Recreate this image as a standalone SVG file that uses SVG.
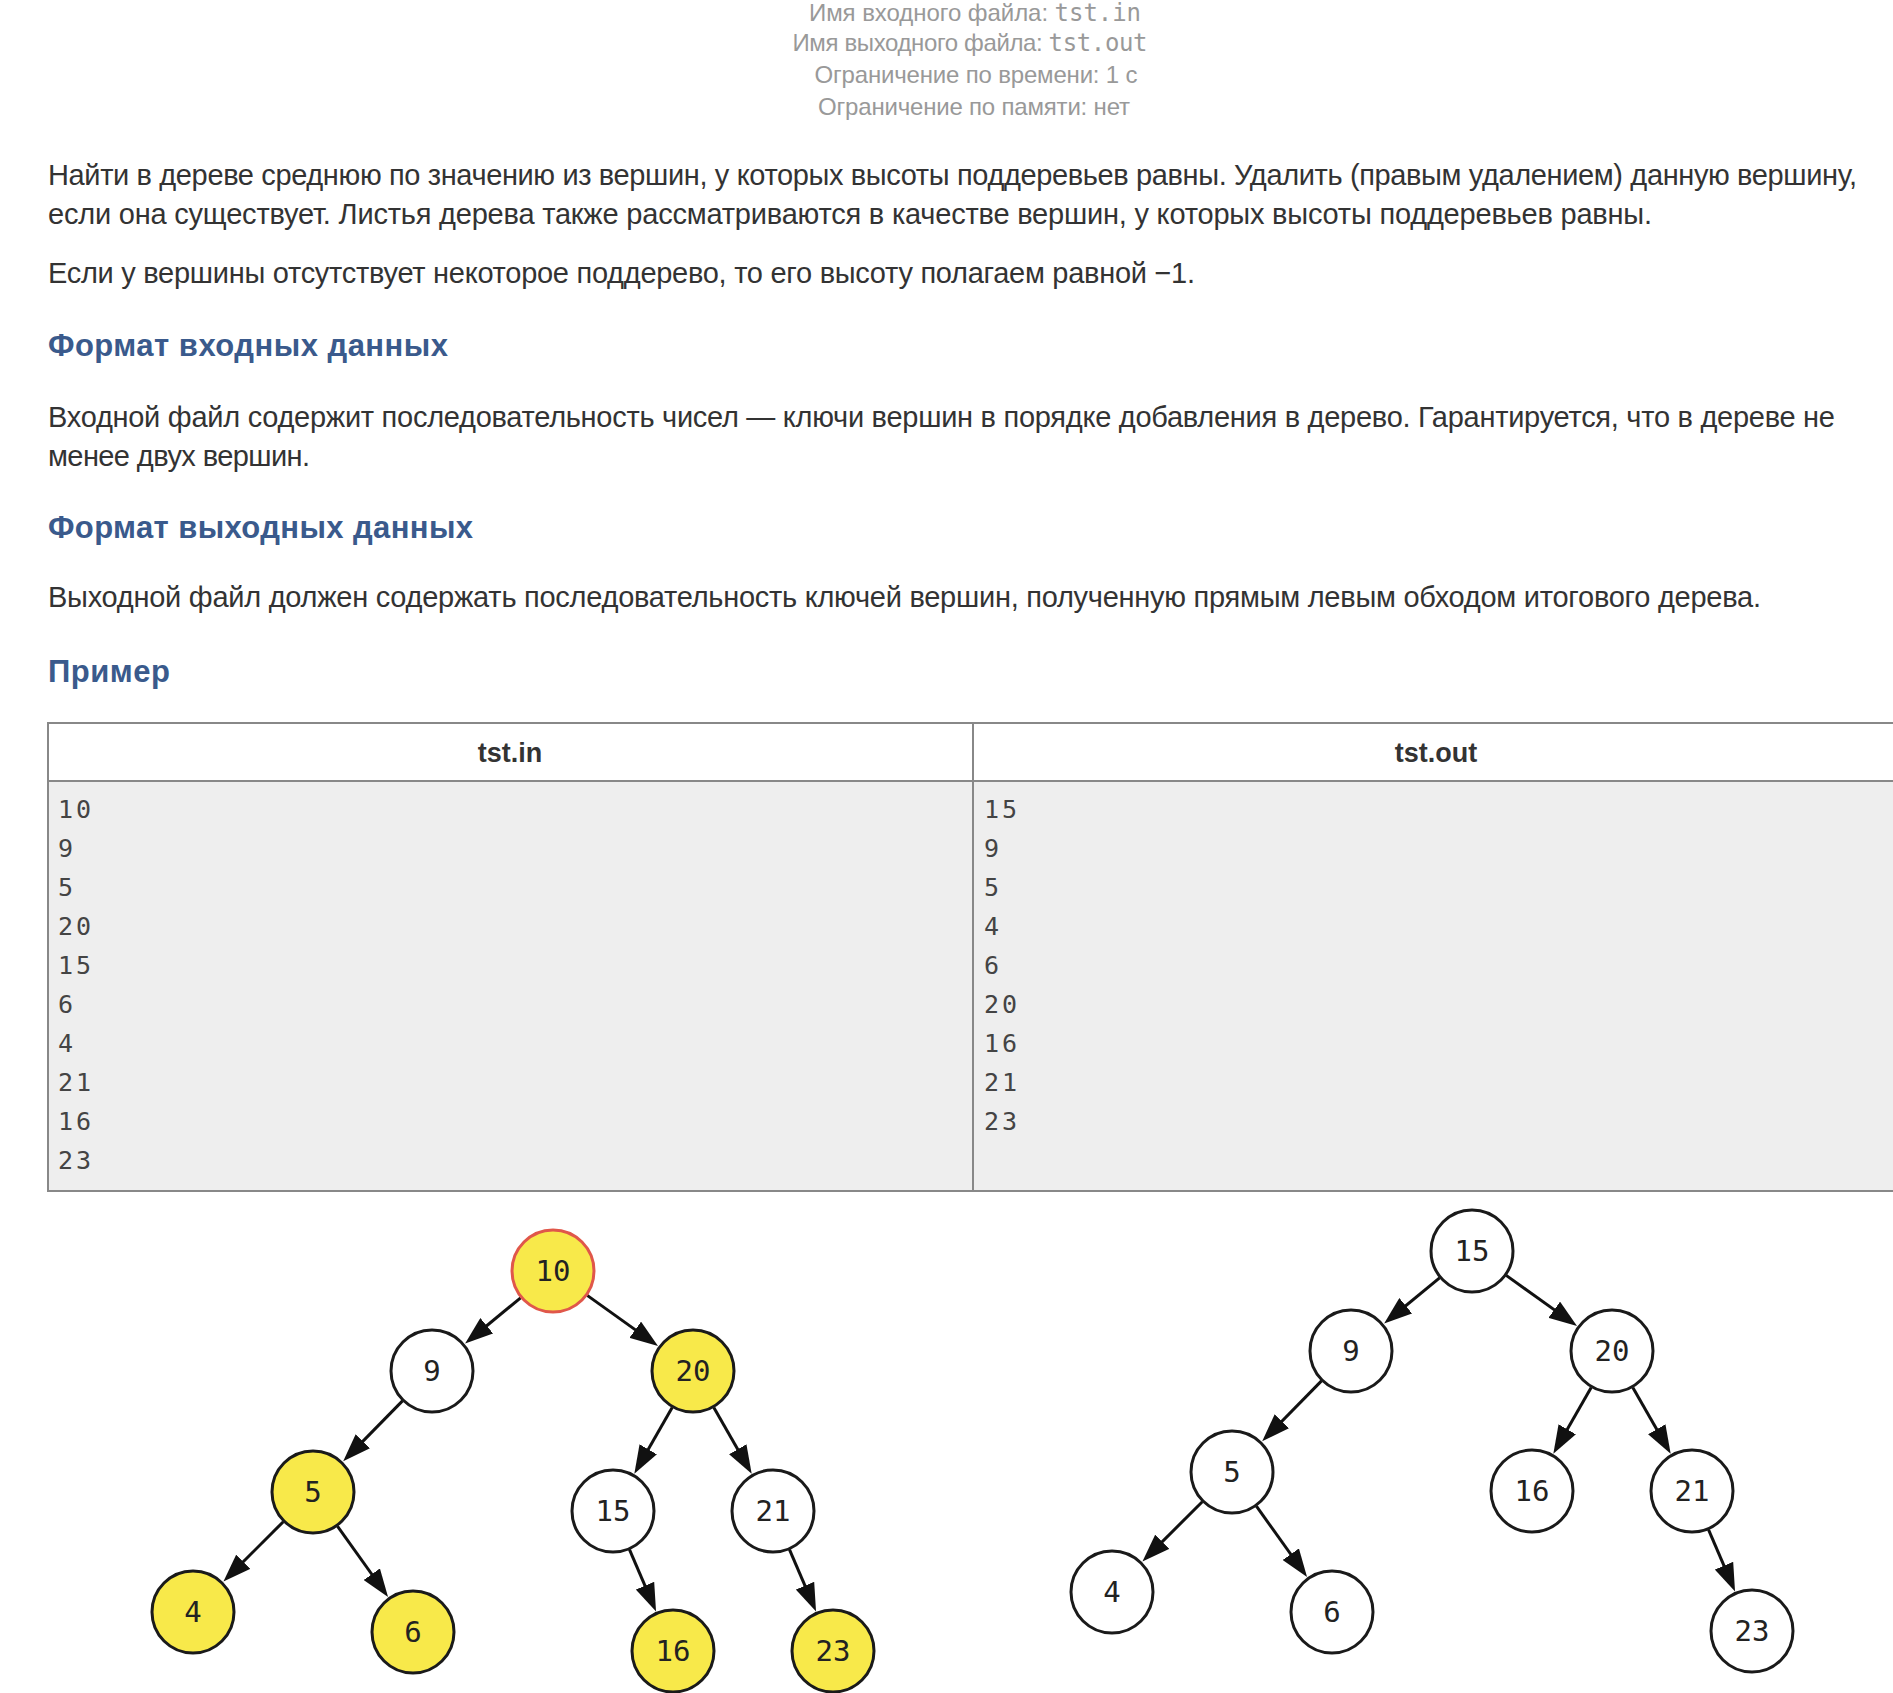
<svg xmlns="http://www.w3.org/2000/svg" width="1893" height="1693" viewBox="0 0 1893 1693">
<defs>
<style>
.hdr{font-family:"Liberation Sans",Arial,sans-serif;font-size:24px;fill:#999;text-anchor:middle}
.hm{font-family:"DejaVu Sans Mono","Liberation Mono",monospace;font-size:24px}
.body{font-family:"Liberation Sans",Arial,sans-serif;font-size:29px;fill:#333}
.h2{font-family:"Liberation Sans",Arial,sans-serif;font-size:31px;font-weight:bold;fill:#3a5a8c}
.th{font-family:"Liberation Sans",Arial,sans-serif;font-size:27px;font-weight:bold;fill:#333;text-anchor:middle}
.td{font-family:"DejaVu Sans Mono","Liberation Mono",monospace;font-size:25px;fill:#444;letter-spacing:3px}
.bd{stroke:#888;stroke-width:2;fill:none}
.n{stroke:#1a1a1a;stroke-width:3;fill:#fff}
.y{fill:#f8e94a}
.root{stroke:#e0574a}
.nt{font-family:"DejaVu Sans Mono","Liberation Mono",monospace;font-size:29px;fill:#222;text-anchor:middle}
.e{stroke:#111;stroke-width:3;fill:none;marker-end:url(#ah)}
</style>
<marker id="ah" markerUnits="userSpaceOnUse" viewBox="0 0 28 20" markerWidth="28" markerHeight="20" refX="20" refY="10" orient="auto">
<path d="M0,0 L28,10 L0,20 z" fill="#111"/>
</marker>
</defs>
<rect width="1893" height="1693" fill="#fff"/>

<g id="header">
<text class="hdr" x="975" y="21" textLength="332">Имя входного файла: <tspan class="hm">tst.in</tspan></text>
<text class="hdr" x="970" y="51" textLength="355">Имя выходного файла: <tspan class="hm">tst.out</tspan></text>
<text class="hdr" x="976" y="83" textLength="323">Ограничение по времени: 1 с</text>
<text class="hdr" x="974" y="115" textLength="312">Ограничение по памяти: нет</text>
</g>

<g id="statement">
<text class="body" x="48" y="185" textLength="1809">Найти в дереве среднюю по значению из вершин, у которых высоты поддеревьев равны. Удалить (правым удалением) данную вершину,</text>
<text class="body" x="48" y="224" textLength="1604">если она существует. Листья дерева также рассматриваются в качестве вершин, у которых высоты поддеревьев равны.</text>
<text class="body" x="48" y="283" textLength="1147">Если у вершины отсутствует некоторое поддерево, то его высоту полагаем равной −1.</text>
<text class="h2" x="48" y="356" textLength="400">Формат входных данных</text>
<text class="body" x="48" y="427" textLength="1787">Входной файл содержит последовательность чисел — ключи вершин в порядке добавления в дерево. Гарантируется, что в дереве не</text>
<text class="body" x="48" y="466" textLength="262">менее двух вершин.</text>
<text class="h2" x="48" y="538" textLength="425">Формат выходных данных</text>
<text class="body" x="48" y="607" textLength="1713">Выходной файл должен содержать последовательность ключей вершин, полученную прямым левым обходом итогового дерева.</text>
<text class="h2" x="48" y="682" textLength="122">Пример</text>
</g>

<g id="table">
<rect x="48" y="781" width="1850" height="410" fill="#eeeeee"/>
<line class="bd" x1="47" y1="723" x2="1893" y2="723"/>
<line class="bd" x1="47" y1="781" x2="1893" y2="781"/>
<line class="bd" x1="47" y1="1191" x2="1893" y2="1191"/>
<line class="bd" x1="48" y1="722" x2="48" y2="1192"/>
<line class="bd" x1="973" y1="722" x2="973" y2="1192"/>
<text class="th" x="510" y="762">tst.in</text>
<text class="th" x="1436" y="762">tst.out</text>
<text class="td" x="58" y="818">10</text>
<text class="td" x="58" y="857">9</text>
<text class="td" x="58" y="896">5</text>
<text class="td" x="58" y="935">20</text>
<text class="td" x="58" y="974">15</text>
<text class="td" x="58" y="1013">6</text>
<text class="td" x="58" y="1052">4</text>
<text class="td" x="58" y="1091">21</text>
<text class="td" x="58" y="1130">16</text>
<text class="td" x="58" y="1169">23</text>
<text class="td" x="984" y="818">15</text>
<text class="td" x="984" y="857">9</text>
<text class="td" x="984" y="896">5</text>
<text class="td" x="984" y="935">4</text>
<text class="td" x="984" y="974">6</text>
<text class="td" x="984" y="1013">20</text>
<text class="td" x="984" y="1052">16</text>
<text class="td" x="984" y="1091">21</text>
<text class="td" x="984" y="1130">23</text>
</g>

<g id="connectors">
<line class="e" x1="520.6" y1="1297.8" x2="471.3" y2="1338.5"/>
<line class="e" x1="587.2" y1="1295.4" x2="651.5" y2="1341.4"/>
<line class="e" x1="402.5" y1="1400.9" x2="348.8" y2="1455.6"/>
<line class="e" x1="672.2" y1="1407.5" x2="638.3" y2="1466.7"/>
<line class="e" x1="713.8" y1="1407.5" x2="747.7" y2="1466.7"/>
<line class="e" x1="283.3" y1="1521.7" x2="229.1" y2="1575.9"/>
<line class="e" x1="337.4" y1="1526.2" x2="383.4" y2="1590.5"/>
<line class="e" x1="629.5" y1="1549.6" x2="652.9" y2="1604.1"/>
<line class="e" x1="789.5" y1="1549.6" x2="812.9" y2="1604.1"/>

<line class="e" x1="1439.6" y1="1277.8" x2="1390.3" y2="1318.5"/>
<line class="e" x1="1506.2" y1="1275.4" x2="1570.5" y2="1321.4"/>
<line class="e" x1="1321.5" y1="1380.9" x2="1267.8" y2="1435.6"/>
<line class="e" x1="1591.2" y1="1387.5" x2="1557.3" y2="1446.7"/>
<line class="e" x1="1632.8" y1="1387.5" x2="1666.7" y2="1446.7"/>
<line class="e" x1="1202.3" y1="1501.7" x2="1148.1" y2="1555.9"/>
<line class="e" x1="1256.4" y1="1506.2" x2="1302.4" y2="1570.5"/>
<line class="e" x1="1708.5" y1="1529.6" x2="1731.9" y2="1584.1"/>
</g>

<g id="L10"><circle class="n y root" cx="553" cy="1271" r="41"/><text class="nt" x="553" y="1281">10</text></g>
<g id="L9"><circle class="n" cx="432" cy="1371" r="41"/><text class="nt" x="432" y="1381">9</text></g>
<g id="L20"><circle class="n y" cx="693" cy="1371" r="41"/><text class="nt" x="693" y="1381">20</text></g>
<g id="L5"><circle class="n y" cx="313" cy="1492" r="41"/><text class="nt" x="313" y="1502">5</text></g>
<g id="L15"><circle class="n" cx="613" cy="1511" r="41"/><text class="nt" x="613" y="1521">15</text></g>
<g id="L21"><circle class="n" cx="773" cy="1511" r="41"/><text class="nt" x="773" y="1521">21</text></g>
<g id="L4"><circle class="n y" cx="193" cy="1612" r="41"/><text class="nt" x="193" y="1622">4</text></g>
<g id="L6"><circle class="n y" cx="413" cy="1632" r="41"/><text class="nt" x="413" y="1642">6</text></g>
<g id="L16"><circle class="n y" cx="673" cy="1651" r="41"/><text class="nt" x="673" y="1661">16</text></g>
<g id="L23"><circle class="n y" cx="833" cy="1651" r="41"/><text class="nt" x="833" y="1661">23</text></g>

<g id="R15"><circle class="n" cx="1472" cy="1251" r="41"/><text class="nt" x="1472" y="1261">15</text></g>
<g id="R9"><circle class="n" cx="1351" cy="1351" r="41"/><text class="nt" x="1351" y="1361">9</text></g>
<g id="R20"><circle class="n" cx="1612" cy="1351" r="41"/><text class="nt" x="1612" y="1361">20</text></g>
<g id="R5"><circle class="n" cx="1232" cy="1472" r="41"/><text class="nt" x="1232" y="1482">5</text></g>
<g id="R16"><circle class="n" cx="1532" cy="1491" r="41"/><text class="nt" x="1532" y="1501">16</text></g>
<g id="R21"><circle class="n" cx="1692" cy="1491" r="41"/><text class="nt" x="1692" y="1501">21</text></g>
<g id="R4"><circle class="n" cx="1112" cy="1592" r="41"/><text class="nt" x="1112" y="1602">4</text></g>
<g id="R6"><circle class="n" cx="1332" cy="1612" r="41"/><text class="nt" x="1332" y="1622">6</text></g>
<g id="R23"><circle class="n" cx="1752" cy="1631" r="41"/><text class="nt" x="1752" y="1641">23</text></g>
</svg>
